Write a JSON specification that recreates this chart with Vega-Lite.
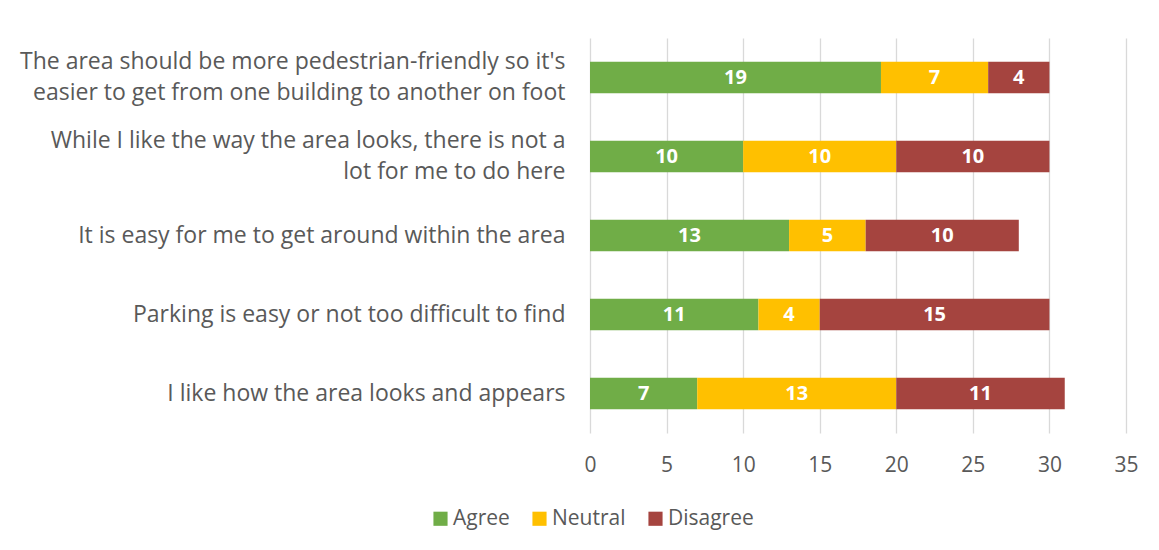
{
  "$schema": "https://vega.github.io/schema/vega-lite/v6.json",
  "width": 536,
  "height": 395,
  "autosize": {"type": "none"},
  "padding": {"left": 590, "top": 38, "right": 33, "bottom": 117},
  "background": "white",
  "config": {
    "font": "Open Sans",
    "view": {"stroke": null},
    "axis": {"labelColor": "#595959", "labelFontSize": 21, "labelFont": "Open Sans"},
    "legend": {"labelColor": "#595959", "labelFontSize": 21, "labelFont": "Open Sans"}
  },
  "data": {
    "values": [
      {"statement": "The area should be more pedestrian-friendly so it's|easier to get from one building to another on foot", "response": "Agree", "ord": 1, "count": 19},
      {"statement": "The area should be more pedestrian-friendly so it's|easier to get from one building to another on foot", "response": "Neutral", "ord": 2, "count": 7},
      {"statement": "The area should be more pedestrian-friendly so it's|easier to get from one building to another on foot", "response": "Disagree", "ord": 3, "count": 4},
      {"statement": "While I like the way the area looks, there is not a|lot for me to do here", "response": "Agree", "ord": 1, "count": 10},
      {"statement": "While I like the way the area looks, there is not a|lot for me to do here", "response": "Neutral", "ord": 2, "count": 10},
      {"statement": "While I like the way the area looks, there is not a|lot for me to do here", "response": "Disagree", "ord": 3, "count": 10},
      {"statement": "It is easy for me to get around within the area", "response": "Agree", "ord": 1, "count": 13},
      {"statement": "It is easy for me to get around within the area", "response": "Neutral", "ord": 2, "count": 5},
      {"statement": "It is easy for me to get around within the area", "response": "Disagree", "ord": 3, "count": 10},
      {"statement": "Parking is easy or not too difficult to find", "response": "Agree", "ord": 1, "count": 11},
      {"statement": "Parking is easy or not too difficult to find", "response": "Neutral", "ord": 2, "count": 4},
      {"statement": "Parking is easy or not too difficult to find", "response": "Disagree", "ord": 3, "count": 15},
      {"statement": "I like how the area looks and appears", "response": "Agree", "ord": 1, "count": 7},
      {"statement": "I like how the area looks and appears", "response": "Neutral", "ord": 2, "count": 13},
      {"statement": "I like how the area looks and appears", "response": "Disagree", "ord": 3, "count": 11}
    ]
  },
  "encoding": {
    "y": {
      "field": "statement",
      "type": "nominal",
      "sort": null,
      "scale": {"paddingInner": 0.6, "paddingOuter": 0.3},
      "axis": {
        "title": null,
        "domain": false,
        "ticks": false,
        "labelPadding": 25,
        "labelLimit": 600,
        "labelFontSize": 23,
        "labelLineHeight": 31,
        "labelOffset": {"condition": {"test": "indexof(datum.value, '|') >= 0", "value": -15.5}, "value": 0},
        "labelExpr": "split(datum.label, '|')"
      }
    },
    "x": {
      "field": "count",
      "type": "quantitative",
      "aggregate": "sum",
      "stack": "zero",
      "scale": {"domain": [0, 35], "nice": false},
      "axis": {
        "title": null,
        "values": [0, 5, 10, 15, 20, 25, 30, 35],
        "domain": false,
        "ticks": false,
        "grid": true,
        "gridColor": "#d9d9d9",
        "gridWidth": 1.3,
        "labelPadding": 21,
        "labelFlush": false
      }
    },
    "order": {"field": "ord", "type": "quantitative"}
  },
  "layer": [
    {
      "mark": {"type": "bar"},
      "encoding": {
        "color": {
          "field": "response",
          "type": "nominal",
          "scale": {"domain": ["Agree", "Neutral", "Disagree"], "range": ["#70AD47", "#FFC000", "#A5443F"]},
          "legend": {
            "title": null,
            "orient": "none",
            "legendX": -160,
            "legendY": 470,
            "direction": "horizontal",
            "symbolType": "square",
            "symbolSize": 200,
            "symbolStrokeWidth": 0,
            "symbolOpacity": 1,
            "labelOffset": 2,
            "columnPadding": 19
          }
        }
      }
    },
    {
      "mark": {"type": "text", "color": "white", "fontWeight": "bold", "fontSize": 20, "font": "Open Sans", "baseline": "middle", "align": "center"},
      "encoding": {
        "x": {"field": "count", "type": "quantitative", "aggregate": "sum", "stack": "zero", "bandPosition": 0.5},
        "text": {"field": "count", "type": "quantitative", "aggregate": "sum"}
      }
    }
  ]
}
